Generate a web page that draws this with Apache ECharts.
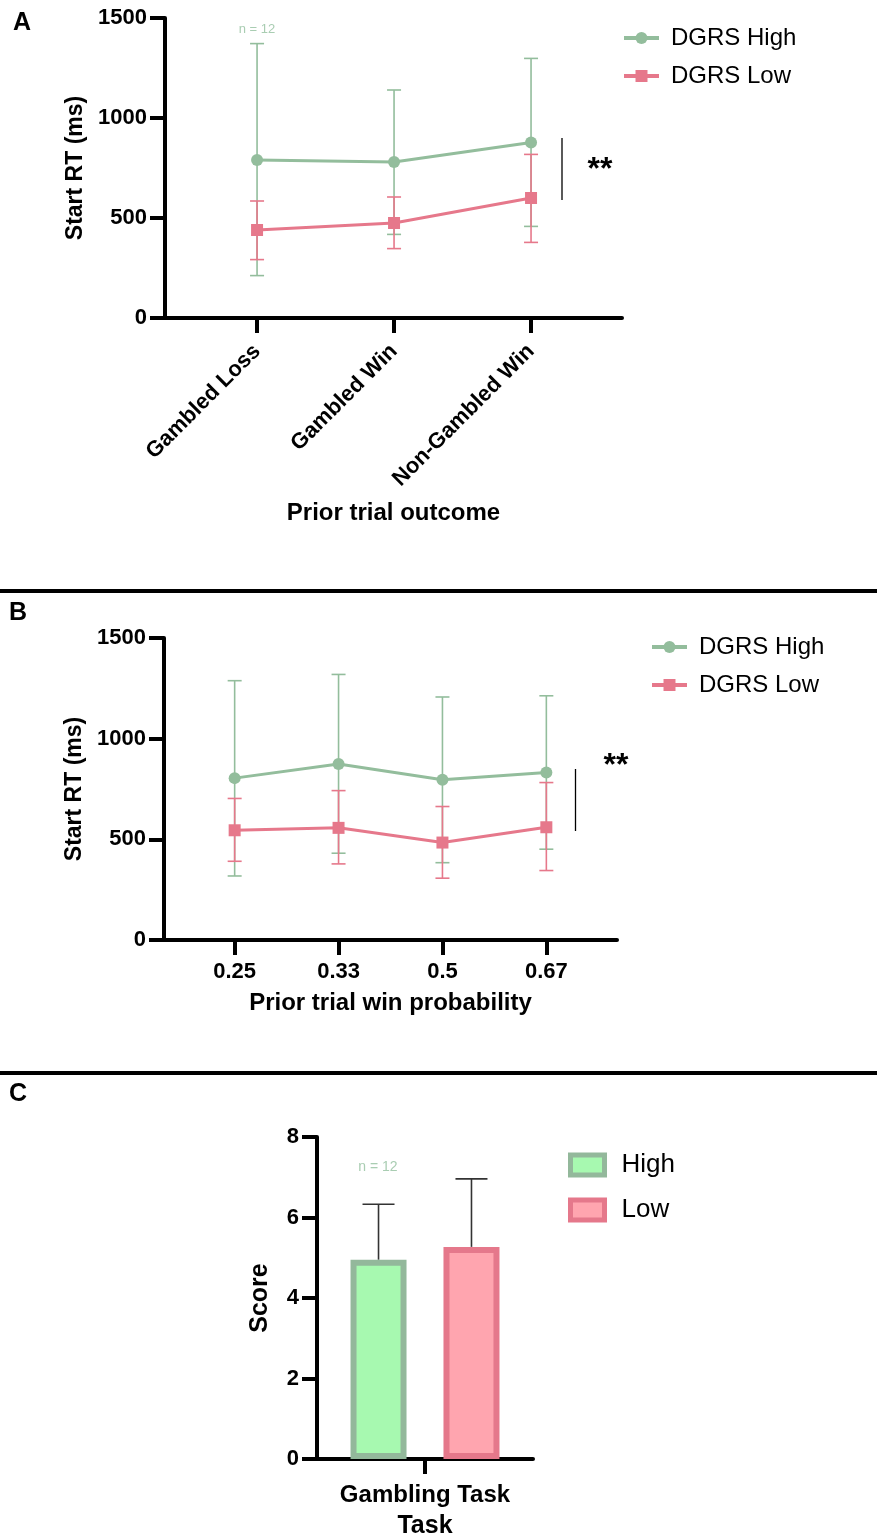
<!DOCTYPE html>
<html>
<head>
<meta charset="utf-8">
<script src="https://cdn.jsdelivr.net/npm/echarts@6/dist/echarts.min.js"></script>
<style>
  html, body { margin: 0; padding: 0; background: #fff; }
  #chart { width: 877px; height: 1539px; }
</style>
</head>
<body>
<div id="chart"></div>
<script>
// Panel A: start RT by prior trial outcome
const outcomeCategories = ['Gambled Loss', 'Gambled Win', 'Non-Gambled Win'];
const outcomeHighMean = [790, 780, 877];
const outcomeHighLower = [212, 418, 458];
const outcomeHighUpper = [1372, 1140, 1298];
const outcomeLowMean = [440, 475, 600];
const outcomeLowLower = [292, 347, 378];
const outcomeLowUpper = [585, 605, 818];

// Panel B: start RT by prior trial win probability
const probCategories = ['0.25', '0.33', '0.5', '0.67'];
const probHighMean = [804, 874, 796, 832];
const probHighLower = [318, 431, 384, 451];
const probHighUpper = [1288, 1319, 1207, 1213];
const probLowMean = [545, 557, 484, 560];
const probLowLower = [391, 378, 307, 345];
const probLowUpper = [703, 742, 663, 782];

// Panel C: score
const taskCategories = ['Gambling Task'];
const scoreHigh = [4.95];
const scoreLow = [5.27];
const scoreHighUpper = [6.33];
const scoreLowUpper = [6.96];

const GREEN = '#93bd9c';
const PINK = '#e6788b';
const FONT = '"Liberation Sans", Arial, sans-serif';

const barWidth = 56;
const barGapRatio = 0.66;

function toPoints(values) {
    return values.map((v, i) => [i, v]);
}

function toErrors(lower, upper) {
    return lower.map((lo, i) => [i, lo, upper[i]]);
}

// whisker drawn with the axis scales
function errorBar(color, capHalf) {
    return function (params, api) {
        const x = api.value(0);
        const lo = api.coord([x, api.value(1)]);
        const hi = api.coord([x, api.value(2)]);
        const cx = lo[0];
        const style = { stroke: color, lineWidth: 1.6 };
        return {
            type: 'group',
            children: [
                { type: 'line', shape: { x1: cx, y1: lo[1], x2: cx, y2: hi[1] }, style },
                { type: 'line', shape: { x1: cx - capHalf, y1: hi[1], x2: cx + capHalf, y2: hi[1] }, style },
                { type: 'line', shape: { x1: cx - capHalf, y1: lo[1], x2: cx + capHalf, y2: lo[1] }, style }
            ]
        };
    };
}

// upper whisker only, shifted onto a grouped bar
function upperBar(color, capHalf, shift) {
    return function (params, api) {
        const lo = api.coord([api.value(0), api.value(1)]);
        const hi = api.coord([api.value(0), api.value(2)]);
        const cx = lo[0] + shift;
        const style = { stroke: color, lineWidth: 1.6 };
        return {
            type: 'group',
            children: [
                { type: 'line', shape: { x1: cx, y1: lo[1], x2: cx, y2: hi[1] }, style },
                { type: 'line', shape: { x1: cx - capHalf, y1: hi[1], x2: cx + capHalf, y2: hi[1] }, style }
            ]
        };
    };
}

const axisLineStyle = { color: '#000', width: 4 };
const boldLabel = { color: '#000', fontFamily: FONT, fontWeight: 'bold', fontSize: 22 };
const boldName = { color: '#000', fontFamily: FONT, fontWeight: 'bold', fontSize: 24 };

function yAxisRT(gridIndex) {
    return {
        gridIndex, type: 'value', min: 0, max: 1500, interval: 500,
        axisLine: { show: true, onZero: false, lineStyle: axisLineStyle },
        axisTick: { show: true, length: 15, lineStyle: { width: 4, color: '#000' } },
        axisLabel: Object.assign({ margin: 18, formatter: v => String(v) }, boldLabel),
        splitLine: { show: false },
        name: 'Start RT (ms)', nameLocation: 'middle', nameGap: 78,
        nameTextStyle: Object.assign({}, boldName, { fontSize: 23 })
    };
}

const legendText = { color: '#000', fontFamily: FONT, fontSize: 24, padding: [0, 0, 0, 7] };

const chart = echarts.init(document.getElementById('chart'));

chart.setOption({
    animation: false,
    backgroundColor: '#fff',
    grid: [
        { left: 165, right: 255, top: 18, bottom: 1221, outerBoundsMode: 'none' },
        { left: 164, right: 260, top: 638, bottom: 599, outerBoundsMode: 'none' },
        { left: 317, right: 344, top: 1137, bottom: 80, outerBoundsMode: 'none' }
    ],
    legend: [
        {
            data: ['DGRS High', 'DGRS Low'],
            orient: 'vertical', left: 617, top: 21,
            itemWidth: 35, itemHeight: 15, itemGap: 14,
            lineStyle: { width: 4 },
            textStyle: legendText
        },
        {
            data: ['DGRS High', 'DGRS Low'],
            orient: 'vertical', left: 645, top: 630,
            itemWidth: 35, itemHeight: 15, itemGap: 14,
            lineStyle: { width: 4 },
            textStyle: legendText
        },
        {
            data: [{ name: 'High', icon: 'rect' }, { name: 'Low', icon: 'rect' }],
            orient: 'vertical', left: 563, top: 1147,
            itemWidth: 34, itemHeight: 20, itemGap: 19,
            itemStyle: { borderWidth: 5 },
            textStyle: Object.assign({}, legendText, { fontSize: 26, padding: [0, 0, 0, 12] })
        }
    ],
    xAxis: [
        {
            gridIndex: 0, type: 'value', min: -0.672, max: 2.664,
            axisLine: { show: true, onZero: false, lineStyle: axisLineStyle },
            axisTick: { show: true, length: 15, customValues: outcomeCategories.map((c, i) => i), lineStyle: { width: 4, color: '#000' } },
            axisLabel: Object.assign({
                customValues: outcomeCategories.map((c, i) => i),
                rotate: 45, margin: 30,
                formatter: v => outcomeCategories[Math.round(v)]
            }, boldLabel),
            splitLine: { show: false },
            name: 'Prior trial outcome', nameLocation: 'middle', nameGap: 183,
            nameTextStyle: boldName
        },
        {
            gridIndex: 1, type: 'value', min: -0.68, max: 3.68,
            axisLine: { show: true, onZero: false, lineStyle: axisLineStyle },
            axisTick: { show: true, length: 15, customValues: probCategories.map((c, i) => i), lineStyle: { width: 4, color: '#000' } },
            axisLabel: Object.assign({
                customValues: probCategories.map((c, i) => i),
                margin: 21,
                formatter: v => probCategories[Math.round(v)]
            }, boldLabel),
            splitLine: { show: false },
            name: 'Prior trial win probability', nameLocation: 'middle', nameGap: 51,
            nameTextStyle: boldName
        },
        {
            gridIndex: 2, type: 'category', data: taskCategories,
            axisLine: { show: true, lineStyle: axisLineStyle },
            axisTick: { show: true, length: 15, alignWithLabel: true, lineStyle: { width: 4, color: '#000' } },
            axisLabel: Object.assign({ margin: 24 }, boldLabel, { fontSize: 24 }),
            name: 'Task', nameLocation: 'middle', nameGap: 55,
            nameTextStyle: Object.assign({}, boldName, { fontSize: 25 })
        }
    ],
    yAxis: [
        yAxisRT(0),
        yAxisRT(1),
        {
            gridIndex: 2, type: 'value', min: 0, max: 8, interval: 2,
            axisLine: { show: true, lineStyle: axisLineStyle },
            axisTick: { show: true, length: 15, lineStyle: { width: 4, color: '#000' } },
            axisLabel: Object.assign({ margin: 18 }, boldLabel),
            splitLine: { show: false },
            name: 'Score', nameLocation: 'middle', nameGap: 44,
            nameTextStyle: Object.assign({}, boldName, { fontSize: 25 })
        }
    ],
    series: [
        // panel A
        { type: 'custom', name: 'A high sd', xAxisIndex: 0, yAxisIndex: 0, renderItem: errorBar(GREEN, 7), data: toErrors(outcomeHighLower, outcomeHighUpper), z: 2 },
        { type: 'line', name: 'DGRS High', xAxisIndex: 0, yAxisIndex: 0, data: toPoints(outcomeHighMean),
          symbol: 'circle', symbolSize: 12, lineStyle: { width: 3, color: GREEN }, itemStyle: { color: GREEN }, z: 3 },
        { type: 'custom', name: 'A low sd', xAxisIndex: 0, yAxisIndex: 0, renderItem: errorBar(PINK, 7), data: toErrors(outcomeLowLower, outcomeLowUpper), z: 4 },
        { type: 'line', name: 'DGRS Low', xAxisIndex: 0, yAxisIndex: 0, data: toPoints(outcomeLowMean),
          symbol: 'rect', symbolSize: 12, lineStyle: { width: 3, color: PINK }, itemStyle: { color: PINK }, z: 5 },
        // panel B
        { type: 'custom', name: 'B high sd', xAxisIndex: 1, yAxisIndex: 1, renderItem: errorBar(GREEN, 7), data: toErrors(probHighLower, probHighUpper), z: 2 },
        { type: 'line', name: 'DGRS High', xAxisIndex: 1, yAxisIndex: 1, data: toPoints(probHighMean),
          symbol: 'circle', symbolSize: 12, lineStyle: { width: 3, color: GREEN }, itemStyle: { color: GREEN }, z: 3 },
        { type: 'custom', name: 'B low sd', xAxisIndex: 1, yAxisIndex: 1, renderItem: errorBar(PINK, 7), data: toErrors(probLowLower, probLowUpper), z: 4 },
        { type: 'line', name: 'DGRS Low', xAxisIndex: 1, yAxisIndex: 1, data: toPoints(probLowMean),
          symbol: 'rect', symbolSize: 12, lineStyle: { width: 3, color: PINK }, itemStyle: { color: PINK }, z: 5 },
        // panel C
        { type: 'bar', name: 'High', xAxisIndex: 2, yAxisIndex: 2, data: scoreHigh,
          barWidth: barWidth, barGap: (barGapRatio * 100) + '%',
          itemStyle: { color: '#a7f9b0', borderColor: '#93b89b', borderWidth: 6 }, z: 2 },
        { type: 'bar', name: 'Low', xAxisIndex: 2, yAxisIndex: 2, data: scoreLow,
          barWidth: barWidth, barGap: (barGapRatio * 100) + '%',
          itemStyle: { color: '#ffa5af', borderColor: '#e5788b', borderWidth: 6 }, z: 2 },
        { type: 'custom', name: 'C high sd', xAxisIndex: 2, yAxisIndex: 2, z: 1,
          renderItem: upperBar('#333', 16, -barWidth * (1 + barGapRatio) / 2),
          data: scoreHigh.map((v, i) => [i, v, scoreHighUpper[i]]) },
        { type: 'custom', name: 'C low sd', xAxisIndex: 2, yAxisIndex: 2, z: 1,
          renderItem: upperBar('#333', 16, barWidth * (1 + barGapRatio) / 2),
          data: scoreLow.map((v, i) => [i, v, scoreLowUpper[i]]) }
    ],
    graphic: [
        { type: 'text', left: 13, top: 11, style: { text: 'A', font: 'bold 25px ' + FONT, fill: '#000' } },
        { type: 'text', left: 9, top: 601, style: { text: 'B', font: 'bold 25px ' + FONT, fill: '#000' } },
        { type: 'text', left: 9, top: 1082, style: { text: 'C', font: 'bold 25px ' + FONT, fill: '#000' } },
        { type: 'rect', shape: { x: 0, y: 589, width: 877, height: 4 }, style: { fill: '#000' } },
        { type: 'rect', shape: { x: 0, y: 1071, width: 877, height: 4 }, style: { fill: '#000' } },
        { type: 'text', x: 257, y: 29, style: { text: 'n = 12', font: '13px ' + FONT, fill: '#a9cdb2', align: 'center', verticalAlign: 'middle' } },
        { type: 'text', x: 378, y: 1167, style: { text: 'n = 12', font: '14px ' + FONT, fill: '#a9cdb2', align: 'center', verticalAlign: 'middle' } },
        { type: 'line', shape: { x1: 562, y1: 138, x2: 562, y2: 200 }, style: { stroke: '#000', lineWidth: 1.3 } },
        { type: 'text', x: 600, y: 170, style: { text: '**', font: 'bold 32px ' + FONT, fill: '#000', align: 'center', verticalAlign: 'middle' } },
        { type: 'line', shape: { x1: 575.5, y1: 769, x2: 575.5, y2: 831 }, style: { stroke: '#000', lineWidth: 1.3 } },
        { type: 'text', x: 616, y: 766, style: { text: '**', font: 'bold 32px ' + FONT, fill: '#000', align: 'center', verticalAlign: 'middle' } }
    ]
});
</script>
</body>
</html>
